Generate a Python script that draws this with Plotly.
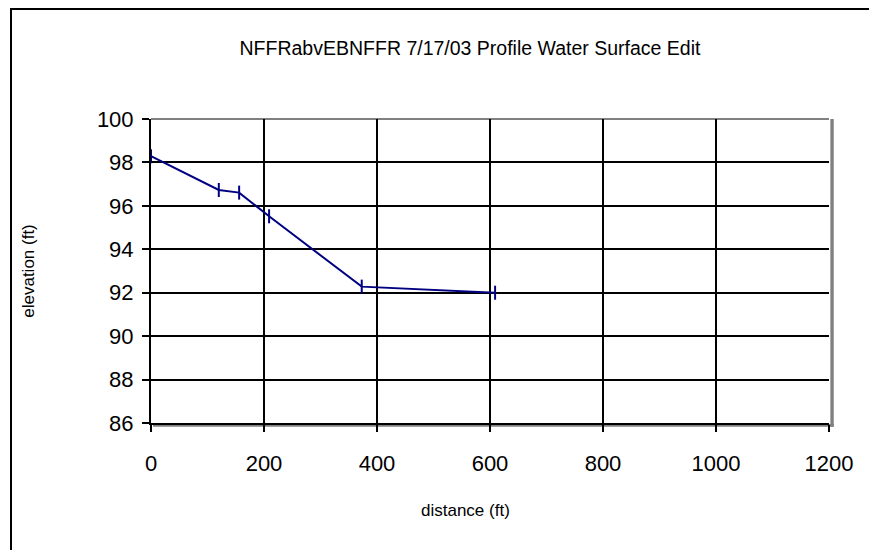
import plotly.graph_objects as go

# profile points
distance = [0, 120, 156, 209, 373, 609]
elevation = [98.29, 96.73, 96.61, 95.52, 92.28, 92.0]

x_ticks = [0, 200, 400, 600, 800, 1000, 1200]
y_ticks = [86, 88, 90, 92, 94, 96, 98, 100]

font = "Liberation Sans, Arial, sans-serif"

# the page puts the figure 8px in from the top-left corner, so everything is shifted by that
L, T, R, B = 143, 111, 821, 415
W, H = R - L, B - T

fig = go.Figure()

fig.add_trace(go.Scatter(x=distance, y=elevation, mode='lines+markers',
                         line=dict(color='#000080', width=2),
                         marker=dict(symbol='line-ns', size=10,
                                     line=dict(color='#000080', width=2)),
                         cliponaxis=False, showlegend=False))

fig.update_layout(width=877, height=550,
                  margin=dict(l=L, r=877 - R, t=T, b=550 - B),
                  paper_bgcolor='white', plot_bgcolor='white',
                  font=dict(family=font, color='black'),
                  title=dict(text='NFFRabvEBNFFR 7/17/03 Profile Water Surface Edit',
                             x=462/877, xanchor='center', y=1-40/550, yanchor='middle',
                             font=dict(size=19.5)))

fig.update_xaxes(range=[0, 1200], tickvals=x_ticks, showgrid=True,
                 gridcolor='black', gridwidth=2, showline=True, linecolor='black',
                 linewidth=2, ticks='outside', ticklen=7, tickwidth=2, tickcolor='black',
                 ticklabelstandoff=13, tickfont=dict(size=22), zeroline=False,
                 automargin=False)
fig.update_yaxes(range=[86, 100], tickvals=y_ticks, showgrid=True,
                 gridcolor='black', gridwidth=2, showline=True, linecolor='black',
                 linewidth=2, ticks='outside', ticklen=7, tickwidth=2, tickcolor='black',
                 ticklabelstandoff=4, tickfont=dict(size=22), zeroline=False,
                 automargin=False,
                 title=dict(text='elevation (ft)', font=dict(size=17), standoff=58))

# x axis title sits left of the plot centre in the original
fig.add_annotation(text='distance (ft)', xref='paper', yref='paper',
                   x=(457 - L) / W, y=(B - 502) / H, xanchor='center', yanchor='middle',
                   showarrow=False, font=dict(size=17))

# grey top edge of the plot area and the drop shadow
fig.add_shape(type='line', xref='paper', yref='paper', x0=0, x1=1, y0=1, y1=1,
              line=dict(color='#808080', width=2), layer='between')
fig.add_shape(type='rect', xref='paper', yref='paper', x0=1.002, x1=1.007, y0=-0.012, y1=1,
              line=dict(width=0), fillcolor='#808080', layer='below')
fig.add_shape(type='rect', xref='paper', yref='paper', x0=0.003, x1=1.007, y0=-0.012, y1=-0.003,
              line=dict(width=0), fillcolor='#808080', layer='below')

# chart frame (only top and left edges fall inside the picture)
fig.add_shape(type='rect', xref='paper', yref='paper',
              x0=(3 - L) / W, x1=(890 - L) / W,
              y0=(B - 560) / H, y1=(B - 1) / H,
              line=dict(color='black', width=2), layer='below')

fig.write_html("out.html")
